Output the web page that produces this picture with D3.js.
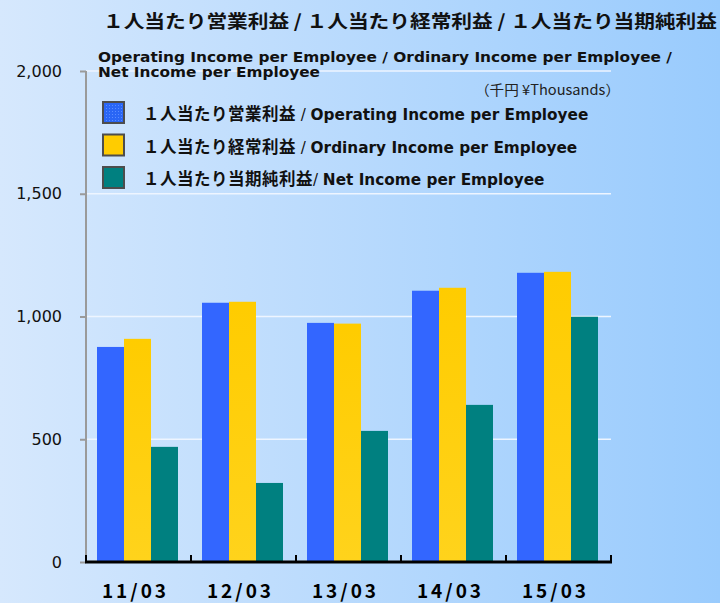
<!DOCTYPE html>
<html>
<head>
<meta charset="utf-8">
<script src="https://cdn.jsdelivr.net/npm/d3@7"></script>
<style>
  body { margin: 0; }
  svg { display: block; }
</style>
</head>
<body>
<div id="chart"></div>
<script>
// data
var periods = ["11/03", "12/03", "13/03", "14/03", "15/03"];
var operatingIncome = [876, 1056, 974, 1105, 1178];
var ordinaryIncome = [909, 1060, 971, 1117, 1182];
var netIncome = [469, 322, 534, 640, 999];
var yTicks = [0, 500, 1000, 1500, 2000];
var seriesJa = ["１人当たり営業利益", "１人当たり経常利益", "１人当たり当期純利益"];
var seriesSep = [" / ", " / ", "/ "];
var seriesEn = ["Operating Income per Employee", "Ordinary Income per Employee", "Net Income per Employee"];
var seriesKeys = ["op", "ord", "net"];

var width = 720, height = 603;
var margin = {top: 71, left: 86, right: 109, bottom: 41};
var plotW = width - margin.left - margin.right;
var plotH = height - margin.top - margin.bottom;

var svg = d3.select("#chart").append("svg")
  .attr("width", width)
  .attr("height", height);

var defs = svg.append("defs");
var bg = defs.append("linearGradient").attr("id", "bg")
  .attr("x1", "0%").attr("x2", "100%").attr("y1", "0%").attr("y2", "0%");
bg.append("stop").attr("offset", "0%").attr("stop-color", "#d6e8fd");
bg.append("stop").attr("offset", "100%").attr("stop-color", "#99cbfd");

var yel = defs.append("linearGradient").attr("id", "yel")
  .attr("x1", "0%").attr("x2", "0%").attr("y1", "0%").attr("y2", "100%");
yel.append("stop").attr("offset", "0%").attr("stop-color", "#ffcc00");
yel.append("stop").attr("offset", "100%").attr("stop-color", "#ffd31c");

// dotted texture for the blue legend swatch
var pat = defs.append("pattern").attr("id", "dots")
  .attr("width", 3).attr("height", 3).attr("patternUnits", "userSpaceOnUse");
pat.append("rect").attr("width", 3).attr("height", 3).attr("fill", "#2a66f5");
pat.append("rect").attr("width", 1).attr("height", 1).attr("fill", "#5a8cff");

svg.append("rect")
  .attr("width", width).attr("height", height)
  .attr("fill", "url(#bg)");

var colors = {op: "#3366ff", ord: "url(#yel)", net: "#008080"};
var swatch = {op: "url(#dots)", ord: "#ffcc00", net: "#008080"};

// scales
var x = d3.scaleBand().domain(periods).range([margin.left, margin.left + plotW]);
var xs = d3.scaleBand().domain(seriesKeys).range([11, 92]);
var y = d3.scaleLinear().domain([0, 2000]).range([margin.top + plotH, margin.top]);

// gridlines
svg.append("g")
  .selectAll("line")
  .data(yTicks.slice(1))
  .enter().append("line")
    .attr("x1", margin.left)
    .attr("x2", margin.left + plotW)
    .attr("y1", function(d) { return y(d); })
    .attr("y2", function(d) { return y(d); })
    .attr("stroke", "#eef5ff")
    .attr("stroke-width", 1.5);

// y axis
var yAxis = svg.append("g")
  .attr("transform", "translate(" + margin.left + ",0)")
  .call(d3.axisLeft(y).tickValues(yTicks).tickSize(6).tickPadding(18)
    .tickFormat(d3.format(",")));
yAxis.select(".domain").attr("stroke", "#9a9a9a").attr("stroke-width", 2)
  .attr("d", "M0," + y(2000) + "V" + y(0));
yAxis.selectAll(".tick line").attr("stroke", "#9a9a9a").attr("stroke-width", 2);
yAxis.selectAll(".tick text")
  .attr("fill", "#111")
  .style("font-family", "'DejaVu Sans', sans-serif")
  .style("font-size", "16px");

// bars
var rows = periods.map(function(p, i) {
  return {period: p, op: operatingIncome[i], ord: ordinaryIncome[i], net: netIncome[i]};
});
var groups = svg.append("g").selectAll("g")
  .data(rows)
  .enter().append("g")
    .attr("transform", function(d) { return "translate(" + x(d.period) + ",0)"; });
groups.selectAll("rect")
  .data(function(d) { return seriesKeys.map(function(k) { return {key: k, value: d[k]}; }); })
  .enter().append("rect")
    .attr("x", function(d) { return xs(d.key); })
    .attr("width", xs.bandwidth())
    .attr("y", function(d) { return y(d.value); })
    .attr("height", function(d) { return y(0) - y(d.value); })
    .attr("fill", function(d) { return colors[d.key]; });

// x axis
var xAxis = svg.append("g")
  .attr("transform", "translate(0," + y(0) + ")");
xAxis.append("line")
  .attr("x1", margin.left - 1).attr("x2", margin.left + plotW + 1)
  .attr("stroke", "#000").attr("stroke-width", 3);
var bounds = periods.map(function(p) { return x(p); }).concat([margin.left + plotW]);
xAxis.selectAll(".tk")
  .data(bounds)
  .enter().append("line")
    .attr("class", "tk")
    .attr("x1", function(d) { return d; }).attr("x2", function(d) { return d; })
    .attr("y1", 0).attr("y2", -7)
    .attr("stroke", "#000").attr("stroke-width", 2);
xAxis.selectAll(".lbl")
  .data(periods)
  .enter().append("text")
    .attr("class", "lbl")
    .attr("x", function(d) { return x(d) + x.bandwidth() / 2 - 3; })
    .attr("y", 36)
    .attr("text-anchor", "middle")
    .style("font-family", "'Noto Sans CJK JP', sans-serif")
    .style("font-weight", "bold")
    .style("font-size", "19px")
    .style("letter-spacing", "3px")
    .text(function(d) { return d; });

// titles
svg.append("text")
  .attr("x", 103).attr("y", 28)
  .attr("textLength", 614).attr("lengthAdjust", "spacingAndGlyphs")
  .style("font-family", "'Noto Sans CJK JP', sans-serif")
  .style("font-weight", "bold")
  .style("font-size", "18px")
  .attr("fill", "#111")
  .text("１人当たり営業利益 / １人当たり経常利益 / １人当たり当期純利益");

svg.append("text")
  .attr("x", 98).attr("y", 62)
  .attr("textLength", 574).attr("lengthAdjust", "spacingAndGlyphs")
  .style("font-family", "'DejaVu Sans', sans-serif")
  .style("font-weight", "bold")
  .style("font-size", "14px")
  .attr("fill", "#111")
  .text("Operating Income per Employee / Ordinary Income per Employee /");
svg.append("text")
  .attr("x", 98).attr("y", 77)
  .attr("textLength", 222).attr("lengthAdjust", "spacingAndGlyphs")
  .style("font-family", "'DejaVu Sans', sans-serif")
  .style("font-weight", "bold")
  .style("font-size", "14px")
  .attr("fill", "#111")
  .text("Net Income per Employee");

svg.append("text")
  .attr("x", 475).attr("y", 95)
  .attr("textLength", 145).attr("lengthAdjust", "spacingAndGlyphs")
  .style("font-family", "'Noto Sans CJK JP', sans-serif")
  .style("font-size", "14px")
  .attr("fill", "#222")
  .text("（千円 ¥Thousands）");

// legend
var legend = svg.append("g").selectAll("g")
  .data(seriesKeys)
  .enter().append("g")
    .attr("transform", function(d, i) { return "translate(103," + (102 + i * 32.5) + ")"; });
legend.append("rect")
  .attr("width", 21).attr("height", 21)
  .attr("fill", function(d) { return swatch[d]; })
  .attr("stroke", "#4d4d4d").attr("stroke-width", 2);
var lt = legend.append("text")
  .attr("x", 40).attr("y", 18)
  .attr("fill", "#111")
  .style("font-weight", "bold")
  .style("font-size", "15px");
lt.append("tspan")
  .style("font-family", "'Noto Sans CJK JP', sans-serif")
  .style("font-size", "16.5px")
  .style("letter-spacing", "0.5px")
  .text(function(d, i) { return seriesJa[i]; });
lt.append("tspan")
  .style("font-family", "'DejaVu Sans', sans-serif")
  .style("font-weight", "normal")
  .style("font-size", "15px")
  .text(function(d, i) { return seriesSep[i]; });
lt.append("tspan")
  .style("font-family", "'DejaVu Sans', sans-serif")
  .style("font-size", "15.3px")
  .text(function(d, i) { return seriesEn[i]; });
</script>
</body>
</html>
